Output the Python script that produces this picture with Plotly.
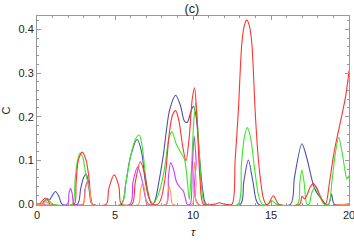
import plotly.graph_objects as go

# ---- data ----
tau_blue = [0, 0.3, 0.5, 0.68, 0.8, 0.95, 1.18, 1.4, 1.6, 2.6, 2.8, 3.0, 3.15, 3.3, 3.45, 3.55,
            5.4, 5.7, 6.0, 6.42, 6.7, 6.95, 7.2, 7.45, 7.6, 7.77, 8.09, 8.5, 8.89, 9.2, 9.45, 9.63,
            9.85, 10.02, 10.2, 10.45, 10.65, 10.85, 13.05, 13.25, 13.55, 13.85, 14.2, 16.25, 16.5,
            16.98, 17.3, 17.73, 18.0, 18.27, 18.5, 18.7, 18.88, 19.05, 20]
c_blue = [0, 0, 0.008, 0.012, 0.01, 0.018, 0.029, 0.018, 0, 0, 0.035, 0.062, 0.068, 0.05, 0.015, 0,
          0, 0.05, 0.11, 0.148, 0.12, 0.05, 0.012, 0.001, 0.012, 0.042, 0.11, 0.215, 0.249, 0.225, 0.19, 0.187,
          0.21, 0.224, 0.2, 0.095, 0.025, 0, 0, 0.05, 0.101, 0.05, 0, 0, 0.06,
          0.138, 0.105, 0.042, 0.022, 0.01, 0, 0, 0.023, 0, 0]

tau_green = [0, 0.35, 0.5, 0.68, 0.85, 1.0, 2.25, 2.45, 2.6, 2.76, 2.95, 3.1, 3.25, 3.4, 3.55,
             5.42, 5.7, 6.0, 6.3, 6.55, 6.75, 7.0, 7.2, 7.45, 7.7, 8.0, 8.2, 8.45, 8.65, 8.9, 9.17,
             9.45, 9.62, 9.76, 9.9, 10.05, 10.18, 10.35, 10.55, 10.78, 12.87, 13.1, 13.3, 13.49, 13.7,
             13.95, 14.2, 14.42, 14.8, 15.05, 15.35, 16.7, 16.85, 16.98, 17.12, 17.3, 17.45, 17.6,
             17.84, 18.1, 18.4, 18.7, 18.9, 19.1, 19.34, 19.55, 19.75, 19.87, 20]
c_green = [0, 0, 0.007, 0.011, 0.005, 0, 0, 0.06, 0.1, 0.117, 0.105, 0.075, 0.05, 0.02, 0,
           0, 0.05, 0.11, 0.148, 0.158, 0.13, 0.05, 0.012, 0.001, 0.015, 0.05, 0.087, 0.15, 0.166, 0.14, 0.121,
           0.103, 0.06, 0.01, 0.08, 0.19, 0.232, 0.15, 0.04, 0, 0, 0.09, 0.155, 0.175, 0.15,
           0.08, 0.02, 0, 0, 0.008, 0, 0, 0.05, 0.078, 0.05, 0, 0, 0.025,
           0.039, 0.02, 0, 0, 0.05, 0.11, 0.153, 0.12, 0.075, 0.057, 0.065]

tau_magenta = [0, 1.95, 2.05, 2.15, 2.25, 2.38, 2.95, 3.08, 3.22, 3.38, 3.52, 5.97, 6.15, 6.45,
               6.7, 6.95, 7.15, 8.3, 8.42, 8.57, 8.75, 8.95, 9.17, 9.38, 9.52, 9.62, 9.82, 9.95,
               10.08, 10.2, 10.35, 20]
c_magenta = [0, 0, 0.025, 0.036, 0.025, 0, 0, 0.035, 0.051, 0.03, 0, 0, 0.05, 0.085,
             0.06, 0.015, 0, 0, 0.06, 0.095, 0.08, 0.05, 0.038, 0.03, 0.012, 0, 0, 0.08,
             0.156, 0.1, 0, 0]

tau_red = [0, 0.15, 0.35, 0.55, 0.72, 0.85, 2.38, 2.5, 2.65, 2.9, 3.15, 3.35, 3.55, 4.45, 4.6,
           4.95, 5.25, 5.4, 6.1, 6.3, 6.62, 6.9, 7.1, 7.35, 7.75, 7.95, 8.2, 8.5, 8.7, 8.89, 9.1,
           9.35, 9.55, 9.75, 9.95, 10.1, 10.25, 10.45, 10.66, 11.4, 11.7, 12.0, 12.5, 12.7, 12.91,
           13.13, 13.3, 13.45, 13.6, 13.77, 13.98, 14.15, 14.3, 14.5, 14.68, 14.82, 15.15, 15.5,
           16.85, 16.98, 17.15, 17.3, 17.5, 17.72, 17.95, 18.2, 18.5, 18.75, 19.0, 19.23, 19.55,
           19.8, 20]
c_red = [0, 0, 0.008, 0.014, 0.007, 0, 0, 0.045, 0.1, 0.119, 0.1, 0.055, 0, 0, 0.035,
         0.067, 0.04, 0, 0, 0.05, 0.097, 0.07, 0.03, 0, 0, 0.012, 0.057, 0.168, 0.205, 0.214, 0.19,
         0.13, 0.099, 0.15, 0.24, 0.266, 0.2, 0.057, 0, 0, 0.003, 0, 0, 0.1, 0.216,
         0.368, 0.41, 0.421, 0.41, 0.368, 0.216, 0.12, 0.064, 0.015, 0, 0, 0.019, 0,
         0, 0.018, 0.012, 0.02, 0.038, 0.047, 0.036, 0.015, 0, 0.05, 0.11, 0.152, 0.205,
         0.25, 0.305]

tau_orange = [0, 0.4, 0.58, 0.75, 2.95, 3.1, 3.25, 3.4, 3.55, 6.5, 6.62, 6.77, 6.92, 7.05, 8.28,
              8.38, 8.47, 8.58, 8.7, 9.95, 10.03, 10.1, 10.2, 10.3, 20]
c_orange = [0, 0, 0.006, 0, 0, 0.035, 0.05, 0.03, 0, 0, 0.03, 0.049, 0.03, 0, 0,
            0.025, 0.04, 0.025, 0, 0, 0.06, 0.097, 0.05, 0, 0]

x_ticks = [0, 5, 10, 15, 20]
y_ticks = [0.0, 0.1, 0.2, 0.3, 0.4]
y_tick_text = ["0.0", "0.1", "0.2", "0.3", "0.4"]

series = [
    (tau_blue, c_blue, "rgb(80,80,170)"),
    (tau_green, c_green, "rgb(60,230,40)"),
    (tau_magenta, c_magenta, "rgb(200,60,255)"),
    (tau_red, c_red, "rgb(255,50,50)"),
    (tau_orange, c_orange, "rgb(255,150,70)"),
]

fig = go.Figure()
for xs, ys, col in series:
    fig.add_trace(go.Scatter(x=xs, y=ys, mode="lines",
                             line=dict(color=col, width=1.1, shape="spline", smoothing=0.8),
                             showlegend=False, hoverinfo="skip"))

font = dict(family="Liberation Sans, Arial, sans-serif", size=11, color="#222")
axis_common = dict(showline=True, linecolor="#999", linewidth=1, mirror="ticks",
                   ticks="inside", ticklen=4, tickcolor="#999", showgrid=False, zeroline=False,
                   tickfont=font, automargin=False, ticklabeloverflow="allow")

fig.update_layout(
    width=354, height=243,
    margin=dict(l=37, r=5, t=16, b=38, autoexpand=False),
    paper_bgcolor="white", plot_bgcolor="white",
    title=dict(text="(c)", x=0.542, xanchor="center", y=0.965, yanchor="middle",
               font=dict(family="Liberation Sans, Arial, sans-serif", size=12.5, color="#222"),
               automargin=False),
    xaxis=dict(range=[0, 20], tickvals=x_ticks, ticktext=[str(v) for v in x_ticks],
               minor=dict(dtick=1, ticklen=2, ticks="inside", tickcolor="#999"),
               title=dict(text="<i>τ</i>", font=font, standoff=8), **axis_common),
    yaxis=dict(range=[-0.002, 0.4305], tickvals=y_ticks, ticktext=y_tick_text,
               minor=dict(dtick=0.02, ticklen=2, ticks="inside", tickcolor="#999"),
               title=dict(text="C", font=font, standoff=12), **axis_common),
)

fig.write_html("out.html",
               config={"displayModeBar": False, "staticPlot": True},
               post_script="document.body.style.margin='0px';document.body.style.overflow='hidden';")
